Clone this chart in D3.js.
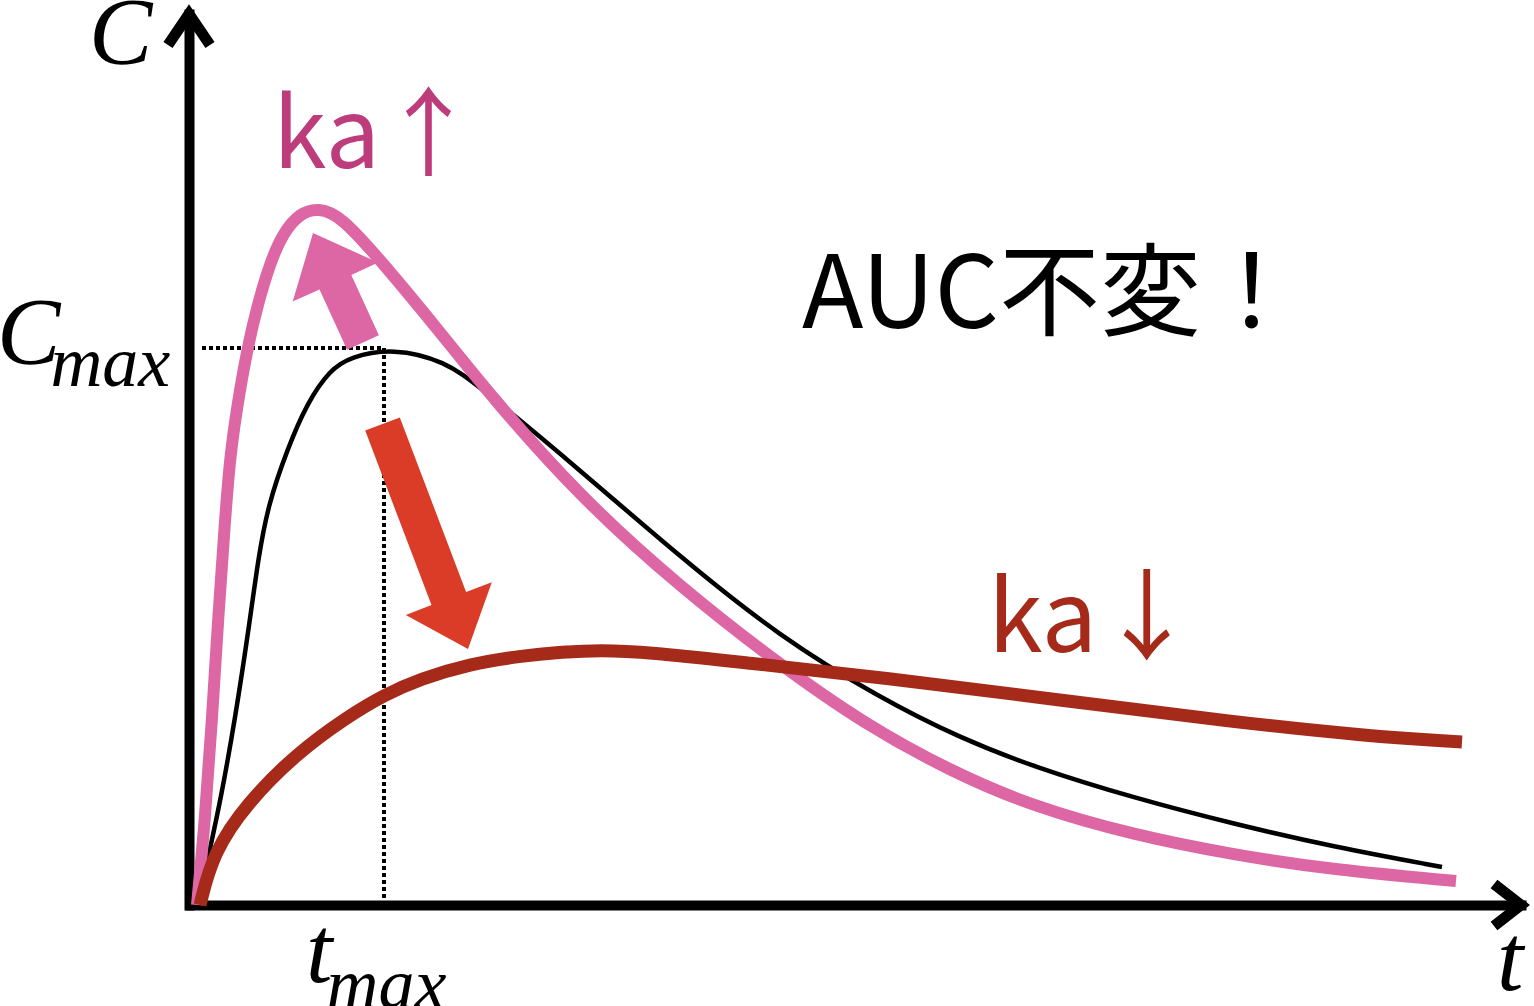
<!DOCTYPE html>
<html>
<head>
<meta charset="utf-8">
<script src="https://cdn.jsdelivr.net/npm/d3@7"></script>
<style>
  html, body { margin: 0; padding: 0; background: #fff; }
  svg { display: block; }
  .serif { font-family: "Liberation Serif", "DejaVu Serif", serif; font-style: italic; }
  .sans { font-family: "Noto Sans CJK JP", "Noto Sans", sans-serif; }
</style>
</head>
<body>
<div id="chart"></div>
<script>
// Concentration-time curves [t, C]
var baseCurve = [[0.08,0],[0.19,0.52],[0.30,1.02],[0.45,1.85],[0.60,2.85],[0.68,3.45],[0.78,4.00],
  [0.97,4.55],[1.17,5.02],[1.40,5.35],[1.60,5.48],[2.03,5.57],[2.55,5.44],[2.90,5.18],[3.90,4.35],
  [4.90,3.48],[5.90,2.68],[6.90,2.07],[7.70,1.67],[8.44,1.38],[9.44,1.07],[10.44,0.81],[11.44,0.58],
  [12.52,0.38]];

// ka up: faster absorption
var fastCurve = [[0.07,0],[0.15,0.85],[0.22,1.85],[0.28,2.85],[0.35,3.85],[0.40,4.48],[0.47,4.98],
  [0.57,5.55],[0.67,5.98],[0.80,6.42],[0.93,6.72],[1.10,6.92],[1.28,6.97],[1.50,6.90],[1.93,6.42],
  [2.50,5.73],[3.00,5.10],[3.90,4.08],[4.90,3.18],[5.90,2.40],[6.73,1.82],[7.60,1.34],[8.44,0.98],
  [9.44,0.70],[10.44,0.50],[11.44,0.35],[12.66,0.24]];

// ka down: slower absorption
var slowCurve = [[0.10,0],[0.23,0.52],[0.57,1.02],[1.07,1.52],[1.57,1.88],[1.94,2.10],[2.30,2.26],
  [2.80,2.41],[3.30,2.49],[3.73,2.53],[4.10,2.55],[4.57,2.53],[5.57,2.42],[6.90,2.28],[8.77,2.04],
  [10.44,1.83],[11.77,1.69],[12.72,1.63]];

// peak of the base curve
var tmax = 1.94, cmax = 5.57;

// block arrows [from, to] in data units
var upArrow = [[1.73, 5.625], [1.23, 6.72]];
var downArrow = [[1.925, 4.81], [2.78, 2.56]];

var W = 1534, H = 1006;
var colors = { base: "#000", fast: "#dd67a5", slow: "#a52a1a", fastText: "#bd3c7b", downArrow: "#da3c28" };

var svg = d3.select("#chart").append("svg")
  .attr("width", W)
  .attr("height", H);

var x = d3.scaleLinear().domain([0, 13.31]).range([190, 1521]);
var y = d3.scaleLinear().domain([0, 8.91]).range([905, 14]);

// dotted guides to Cmax / tmax
var guides = svg.append("g")
  .attr("stroke", "#000")
  .attr("stroke-width", 4)
  .attr("stroke-dasharray", "4 3")
  .attr("fill", "none");
guides.append("line")
  .attr("x1", x(0) + 12).attr("x2", x(tmax))
  .attr("y1", y(cmax)).attr("y2", y(cmax));
guides.append("line")
  .attr("x1", x(tmax)).attr("x2", x(tmax))
  .attr("y1", y(cmax)).attr("y2", y(0));

// axes: only the domain lines, no ticks
svg.append("g")
  .attr("transform", "translate(0," + y(0) + ")")
  .call(d3.axisBottom(x).tickValues([]).tickSizeOuter(0));
svg.append("g")
  .attr("transform", "translate(" + (x(0) - 1) + ",0)")
  .call(d3.axisLeft(y).tickValues([]).tickSizeOuter(0));
svg.selectAll(".domain")
  .attr("stroke", "#000")
  .attr("stroke-width", 10)
  .attr("stroke-linecap", "square");

// arrow heads on the axes
var xEnd = x.range()[1], yEnd = y.range()[1];
svg.append("path")
  .attr("d", "M" + (xEnd - 27) + "," + (y(0) - 21) + "L" + xEnd + "," + y(0) + "L" + (xEnd - 27) + "," + (y(0) + 21))
  .attr("fill", "none").attr("stroke", "#000").attr("stroke-width", 11).attr("stroke-linejoin", "miter");
svg.append("path")
  .attr("d", "M" + (x(0) - 22) + "," + (yEnd + 31) + "L" + (x(0) - 1) + "," + yEnd + "L" + (x(0) + 20) + "," + (yEnd + 31))
  .attr("fill", "none").attr("stroke", "#000").attr("stroke-width", 11).attr("stroke-linejoin", "miter");

// curves
var line = d3.line()
  .x(function(d) { return x(d[0]); })
  .y(function(d) { return y(d[1]); })
  .curve(d3.curveBasis);

svg.append("path").datum(baseCurve)
  .attr("d", line).attr("fill", "none")
  .attr("stroke", colors.base).attr("stroke-width", 4.5);
svg.append("path").datum(fastCurve)
  .attr("d", line).attr("fill", "none")
  .attr("stroke", colors.fast).attr("stroke-width", 12);
svg.append("path").datum(slowCurve)
  .attr("d", line).attr("fill", "none")
  .attr("stroke", colors.slow).attr("stroke-width", 13);

/*
 * Block arrow polygon between two data points
 * sw -- shaft width, hw -- head width, hl -- head length (pixels)
 */
function blockArrow(pts, sw, hw, hl) {
  var x0 = x(pts[0][0]), y0 = y(pts[0][1]);
  var x1 = x(pts[1][0]), y1 = y(pts[1][1]);
  var len = Math.hypot(x1 - x0, y1 - y0);
  var ux = (x1 - x0) / len, uy = (y1 - y0) / len;
  var nx = -uy, ny = ux;
  var neckX = x1 - ux * hl, neckY = y1 - uy * hl;
  var p = [
    [x0 + nx * sw / 2, y0 + ny * sw / 2],
    [neckX + nx * sw / 2, neckY + ny * sw / 2],
    [neckX + nx * hw / 2, neckY + ny * hw / 2],
    [x1, y1],
    [neckX - nx * hw / 2, neckY - ny * hw / 2],
    [neckX - nx * sw / 2, neckY - ny * sw / 2],
    [x0 - nx * sw / 2, y0 - ny * sw / 2]
  ];
  return "M" + p.map(function(q) { return q[0].toFixed(1) + "," + q[1].toFixed(1); }).join("L") + "Z";
}

svg.append("path").attr("d", blockArrow(upArrow, 35, 94, 54)).attr("fill", colors.fast);
svg.append("path").attr("d", blockArrow(downArrow, 37, 92, 54)).attr("fill", colors.downArrow);

// axis labels
svg.append("text").attr("class", "serif")
  .attr("x", 89).attr("y", 64)
  .attr("font-size", 95)
  .text("C");

var cm = svg.append("text").attr("class", "serif")
  .attr("x", -3).attr("y", y(cmax) + 16)
  .attr("font-size", 95);
cm.append("tspan").text("C");
cm.append("tspan").attr("dx", -10).attr("dy", 22).attr("font-size", 72).text("max");

var tm = svg.append("text").attr("class", "serif")
  .attr("x", 306).attr("y", 982)
  .attr("font-size", 95);
tm.append("tspan").text("t");
tm.append("tspan").attr("dx", -6).attr("dy", 26).attr("font-size", 72).text("max");

svg.append("text").attr("class", "serif")
  .attr("x", 1497).attr("y", 990)
  .attr("font-size", 95)
  .text("t");

// annotations
svg.append("text").attr("class", "sans")
  .attr("x", 273).attr("y", 168)
  .attr("font-size", 97)
  .attr("fill", colors.fastText)
  .text("ka↑");

svg.append("text").attr("class", "sans")
  .attr("x", 988).attr("y", 652)
  .attr("font-size", 99)
  .attr("fill", colors.slow)
  .text("ka↓");

svg.append("text").attr("class", "sans")
  .attr("x", 802).attr("y", 328)
  .attr("font-size", 101)
  .attr("fill", "#000")
  .text("AUC不変！");
</script>
</body>
</html>
